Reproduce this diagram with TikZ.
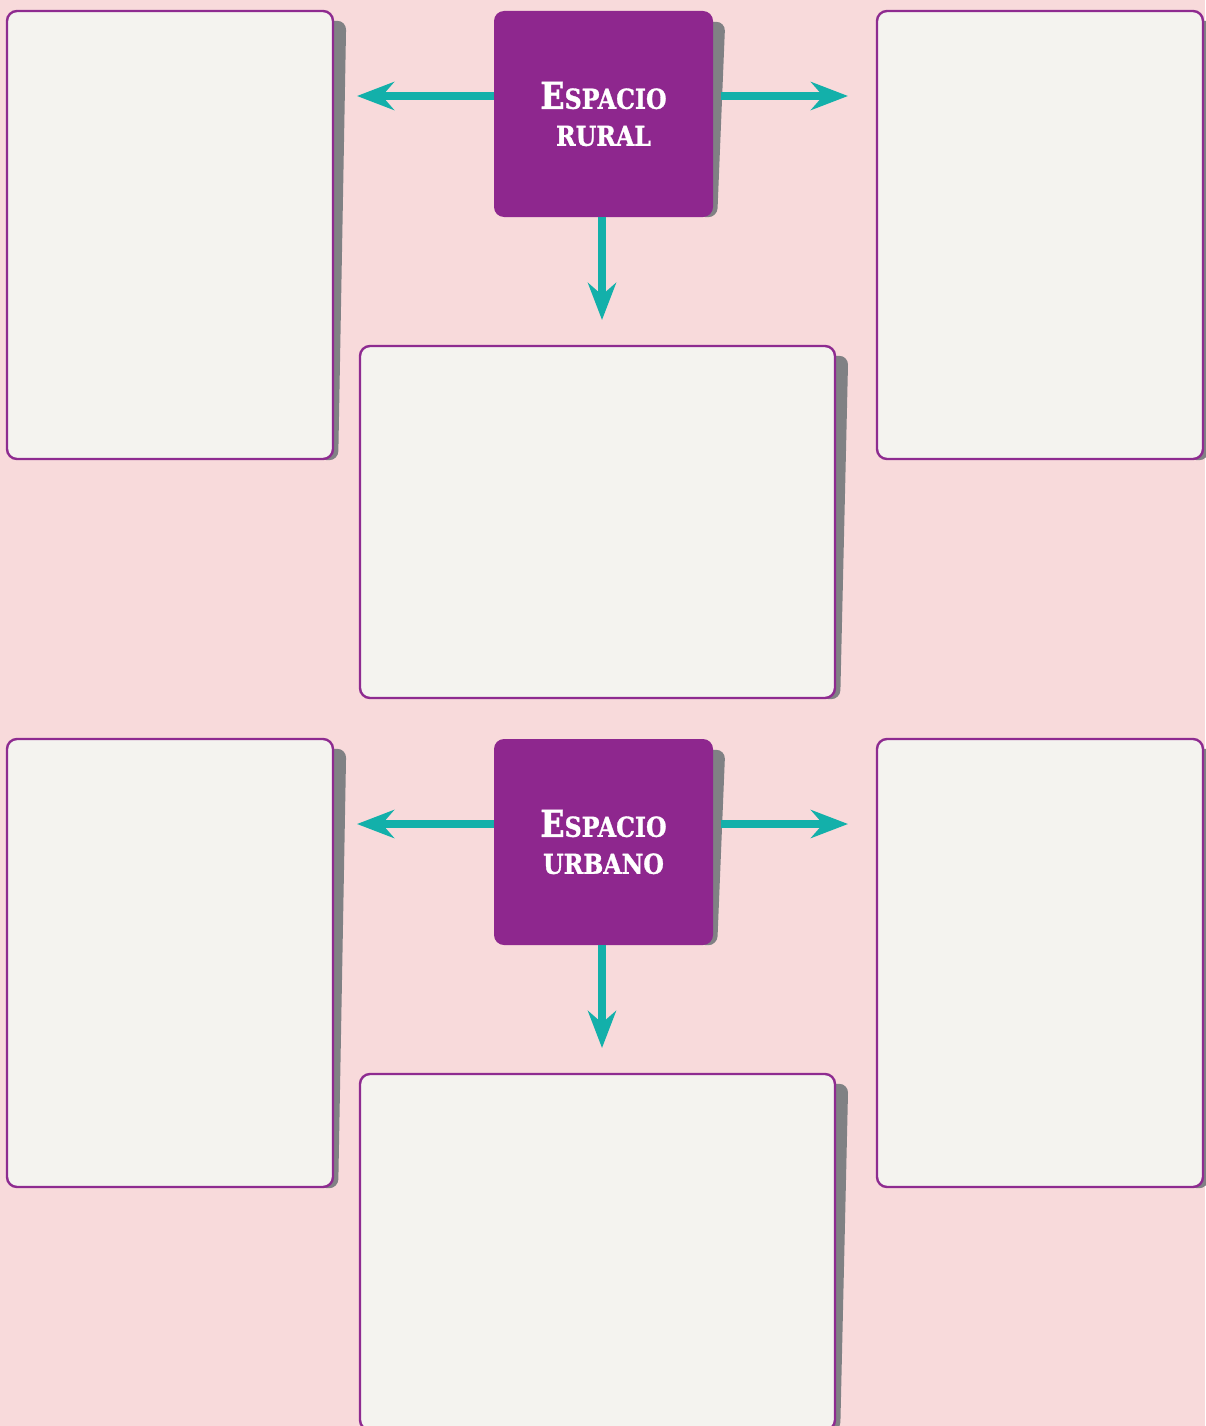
\documentclass[tikz,border=0pt]{standalone}
\usepackage{fontspec}
\newfontfamily\slab{DejaVu Serif}[BoldFeatures={FakeBold=1.2}]
\usetikzlibrary{arrows.meta,backgrounds}
\definecolor{bgpink}{HTML}{F8DADB}
\definecolor{paper}{HTML}{F4F3EF}
\definecolor{cardpurple}{HTML}{8E2B90}
\definecolor{hubpurple}{HTML}{8E278E}
\definecolor{shadowgray}{HTML}{808184}
\definecolor{tealarrow}{HTML}{13B0AA}
\newcommand{\dropshade}[1]{%
  \fill[shadowgray, rounded corners=9pt]
    ([xshift=-16pt,yshift=-11pt]#1.north east) --
    ([xshift=12pt,yshift=-11pt]#1.north east) --
    ([xshift=4pt,yshift=0pt]#1.south east) --
    ([xshift=-16pt,yshift=0pt]#1.south east) -- cycle;}
\newcommand{\hubline}[2]{\scalebox{0.86}[1]{{\fontsize{37}{37}\selectfont #1}#2}}
\begin{document}
\begin{tikzpicture}[x=1pt,y=-1pt,
  card/.style={draw=cardpurple, line width=2.4pt, fill=paper,
    rounded corners=10pt, inner sep=0pt},
  hub/.style={fill=hubpurple, rounded corners=10pt, text=white,
    inner sep=0pt, align=center,
    font=\slab\bfseries\fontsize{27.5}{37}\selectfont},
  link/.style={draw=tealarrow, line width=7.5pt,
    -{Stealth[length=37pt,width=28pt,inset=12pt]}},
]
\useasboundingbox (0,0) rectangle (1205,1426);
\clip (0,0) rectangle (1205,1426);

% ---- upper group: rural ----
\node[card, minimum width=326pt, minimum height=448pt] (rl) at (170,235) {};
\node[card, minimum width=326pt, minimum height=448pt] (rr) at (1040,235) {};
\node[card, minimum width=475pt, minimum height=352pt] (rb) at (597.5,522) {};
\node[hub, minimum width=219pt, minimum height=206pt] (rural) at (603.5,114)
  {\hubline{E}{SPACIO}\\\hubline{}{RURAL}};

\coordinate (rlt) at (357,96);
\coordinate (rrt) at (848,96);
\coordinate (rbt) at (602,320);
\draw[link] (rural.west |- rlt) -- (rlt);
\draw[link, shorten <=8pt] (rural.east |- rrt) -- (rrt);
\draw[link] (rural.south -| rbt) -- (rbt);

% ---- lower group: urbano ----
\node[card, minimum width=326pt, minimum height=448pt] (ul) at (170,963) {};
\node[card, minimum width=326pt, minimum height=448pt] (ur) at (1040,963) {};
\node[card, minimum width=475pt, minimum height=356pt] (ub) at (597.5,1252) {};
\node[hub, minimum width=219pt, minimum height=206pt] (urbano) at (603.5,842)
  {\hubline{E}{SPACIO}\\\hubline{}{URBANO}};

\coordinate (ult) at (357,824);
\coordinate (urt) at (848,824);
\coordinate (ubt) at (602,1048);
\draw[link] (urbano.west |- ult) -- (ult);
\draw[link, shorten <=8pt] (urbano.east |- urt) -- (urt);
\draw[link] (urbano.south -| ubt) -- (ubt);

\begin{pgfonlayer}{background}
  \fill[bgpink] (0,0) rectangle (1205,1426);
  \dropshade{rl}\dropshade{rr}\dropshade{rb}\dropshade{rural}
  \dropshade{ul}\dropshade{ur}\dropshade{ub}\dropshade{urbano}
\end{pgfonlayer}
\end{tikzpicture}
\end{document}
